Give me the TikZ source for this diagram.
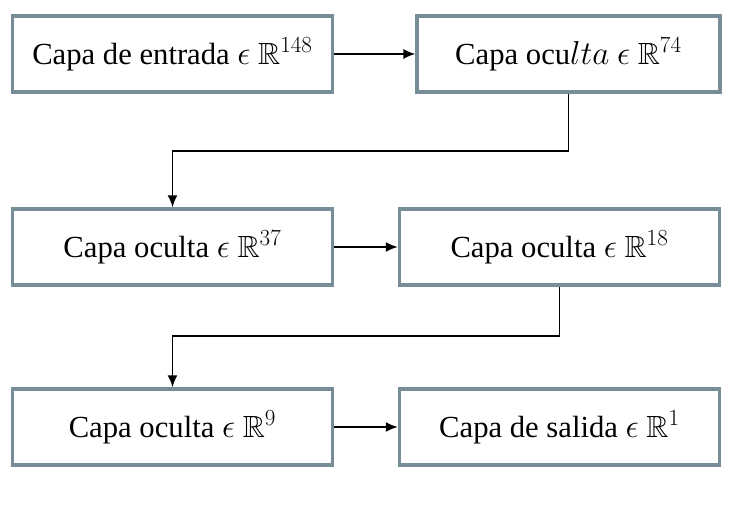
\documentclass[tikz,border=0pt]{standalone}
\usepackage{amssymb}
\usepackage{fontspec}
\setmainfont{Liberation Serif}
\usetikzlibrary{arrows.meta}

\tikzset{
  capa/.style={draw=capagris, line width=2.6pt, fill=white, minimum height=57pt,
    inner sep=0pt, font=\fontsize{23}{27}\selectfont},
  flecha/.style={-{Latex[length=9pt,width=7.5pt]}, line width=1.3pt}
}
\definecolor{capagris}{HTML}{778D98}

\begin{document}
\begin{tikzpicture}[x=0.75pt, y=-0.75pt]
   \useasboundingbox (0,0) rectangle (756,505);
   \node[capa, minimum width=240pt] (entrada) at (172.5,54) {Capa de entrada $\epsilon\ \mathbb{R}^{148}$};
   \node[capa, minimum width=227pt] (oculta74) at (568.5,54) {Capa ocu$lta\ \epsilon\ \mathbb{R}^{74}$};
   \node[capa, minimum width=240pt] (oculta37) at (172.5,247) {Capa oculta $\epsilon\ \mathbb{R}^{37}$};
   \node[capa, minimum width=240pt] (oculta18) at (559.5,247) {Capa oculta $\epsilon\ \mathbb{R}^{18}$};
   \node[capa, minimum width=240pt] (oculta9) at (172.5,427) {Capa oculta $\epsilon\ \mathbb{R}^{9}$};
   \node[capa, minimum width=240pt] (salida) at (559.5,427) {Capa de salida $\epsilon\ \mathbb{R}^{1}$};
   \draw[flecha] (entrada) -- (oculta74);
   \draw[flecha] (oculta74.south) -- (oculta74.south |- 0,151) -| (oculta37.north);
   \draw[flecha] (oculta37) -- (oculta18);
   \draw[flecha] (oculta18.south) -- (oculta18.south |- 0,336) -| (oculta9.north);
   \draw[flecha] (oculta9) -- (salida);
\end{tikzpicture}
\end{document}
